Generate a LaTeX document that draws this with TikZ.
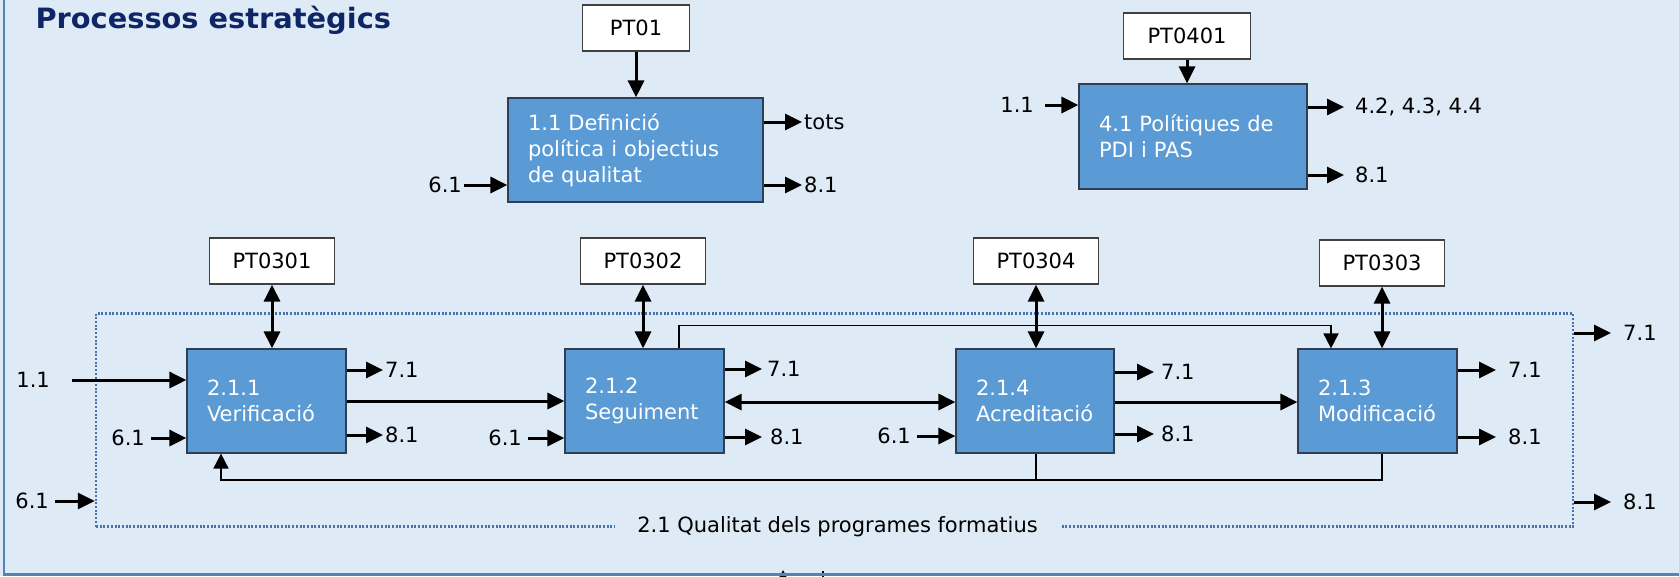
\documentclass[tikz,border=0pt]{standalone}
\usepackage{graphicx}
\usepackage{fontspec}
\setmainfont{DejaVu Sans}
\usetikzlibrary{arrows.meta}
\definecolor{bgblue}{RGB}{222,234,246}
\definecolor{procblue}{RGB}{91,155,213}
\definecolor{procline}{RGB}{47,62,82}
\definecolor{ptline}{RGB}{64,64,64}
\definecolor{titleblue}{RGB}{16,37,102}
\definecolor{framecol}{RGB}{70,116,170}
\definecolor{edgecol}{RGB}{88,130,180}
\begin{document}
\begin{tikzpicture}
    [x=1pt, y=-1pt,
    font=\fontsize{21}{26}\selectfont,
    proc/.style={draw=procline, line width=1.2pt, fill=procblue, text=white,
      align=left, text width=119pt, inner xsep=20pt, minimum height=104pt},
    ptbox/.style={draw=ptline, line width=1.2pt, fill=white,
      minimum width=125pt, minimum height=46pt},
    lbl/.style={inner sep=0pt},
    arr/.style={line width=3pt, -{Triangle[length=17pt,width=16pt]}},
    dblarr/.style={line width=3pt,
      {Triangle[length=17pt,width=16pt]}-{Triangle[length=17pt,width=16pt]}},
    fbline/.style={line width=1.8pt},
    fbarr/.style={line width=1.8pt, -{Triangle[length=15pt,width=15pt]}},
    frame/.style={draw=framecol, line width=2.3pt, dash pattern=on 2pt off 1.7pt}]
    \useasboundingbox (0,0) rectangle (1679,576);
    \fill[bgblue] (0,0) rectangle (1679,576);
    \node[anchor=base west, text=titleblue, font=\fontsize{28}{32}\selectfont\bfseries]
      (title) at (32,28) {\scalebox{1.03}[1]{Processos estratègics}};
    % top row
    \node[ptbox, minimum width=107pt] (pt01) at (636,28) {PT01};
    \node[proc, text width=215pt] (p11) at (635.5,150)
      {1.1 Definició\\política i objectius\\de qualitat};
    \node[ptbox, minimum width=127pt] (pt0401) at (1187,36) {PT0401};
    \node[proc, text width=188pt, minimum height=105pt] (p41) at (1193,136.5)
      {4.1 Polítiques de\\PDI i PAS};
    \draw[arr] (pt01.south) -- (pt01.south |- p11.north);
    \draw[arr] (pt0401.south) -- (pt0401.south |- p41.north);
    \node[lbl, anchor=east] (i11a) at (462,185) {6.1};
    \draw[arr] ([xshift=2pt]i11a.east) -- (p11.west |- i11a);
    \node[lbl, anchor=west] (o11a) at (804,122) {tots};
    \draw[arr] (p11.east |- o11a) -- ([xshift=-2pt]o11a.west);
    \node[lbl, anchor=west] (o11b) at (804,185) {8.1};
    \draw[arr] (p11.east |- o11b) -- ([xshift=-2pt]o11b.west);
    \node[lbl, anchor=east] (i41a) at (1034,105) {1.1};
    \draw[arr] ([xshift=11pt]i41a.east) -- (p41.west |- i41a);
    \node[lbl, anchor=west] (o41a) at (1355,107) {4.2, 4.3, 4.4};
    \draw[arr] (p41.east |- o41a) -- ([xshift=-11pt]o41a.west);
    \node[lbl, anchor=west] (o41b) at (1355,175) {8.1};
    \draw[arr] (p41.east |- o41b) -- ([xshift=-11pt]o41b.west);
    % 2.1 group
    \node[frame, minimum width=1477pt, minimum height=213pt] (grp) at (834.5,420) {};
    \node[fill=bgblue, inner xsep=22pt, inner ysep=4pt] (grplbl) at (837.5,526.5)
      {2.1 Qualitat dels programes formatius};
    \node[ptbox] (pt0301) at (272,261) {PT0301};
    \node[ptbox] (pt0302) at (643,261) {PT0302};
    \node[ptbox] (pt0304) at (1036,261) {PT0304};
    \node[ptbox] (pt0303) at (1382,263) {PT0303};
    \node[proc] (verif) at (266.5,401) {2.1.1\\Verificació};
    \node[proc] (segui) at (644.5,401) {2.1.2\\Seguiment};
    \node[proc, text width=118pt] (acred) at (1035,401) {2.1.4\\Acreditació};
    \node[proc] (modif) at (1377.5,401) {2.1.3\\Modificació};
    \draw[dblarr] (pt0301.south) -- (pt0301.south |- verif.north);
    \draw[dblarr] (pt0302.south) -- (pt0302.south |- segui.north);
    \draw[dblarr] (pt0304.south) -- (pt0304.south |- acred.north);
    \draw[dblarr] (pt0303.south) -- (pt0303.south |- modif.north);
    \draw[arr] (verif.east) -- (segui.west);
    \draw[dblarr] (segui.east |- 0,402) -- (acred.west |- 0,402);
    \draw[arr] (acred.east |- 0,402) -- (modif.west |- 0,402);
    \draw[fbarr] ([xshift=34.5pt]segui.north) -- ++(0,-23) -| ([xshift=-46.5pt]modif.north);
    \draw[fbarr] ([xshift=4.5pt]modif.south) -- ++(0,26) -| ([xshift=-45.5pt]verif.south);
    \draw[fbline] ([xshift=1pt]acred.south) -- ++(0,26);
    % inputs
    \node[lbl, anchor=east] (i21a) at (50,380) {1.1};
    \draw[arr] ([xshift=22pt]i21a.east) -- (verif.west |- i21a);
    \node[lbl, anchor=east] (i21b) at (145,438) {6.1};
    \draw[arr] ([xshift=6pt]i21b.east) -- (verif.west |- i21b);
    \node[lbl, anchor=east] (i21c) at (49,501) {6.1};
    \draw[arr] ([xshift=6pt]i21c.east) -- (grp.west |- i21c);
    \node[lbl, anchor=east] (i22a) at (522,438) {6.1};
    \draw[arr] ([xshift=6pt]i22a.east) -- (segui.west |- i22a);
    \node[lbl, anchor=east] (i24a) at (911,436) {6.1};
    \draw[arr] ([xshift=6pt]i24a.east) -- (acred.west |- i24a);
    % outputs
    \node[lbl, anchor=west] (o21a) at (385,370) {7.1};
    \draw[arr] (verif.east |- o21a) -- ([xshift=-2pt]o21a.west);
    \node[lbl, anchor=west] (o21b) at (385,435) {8.1};
    \draw[arr] (verif.east |- o21b) -- ([xshift=-2pt]o21b.west);
    \node[lbl, anchor=west] (o22a) at (767,369) {7.1};
    \draw[arr] (segui.east |- o22a) -- ([xshift=-5pt]o22a.west);
    \node[lbl, anchor=west] (o22b) at (770,437) {8.1};
    \draw[arr] (segui.east |- o22b) -- ([xshift=-8pt]o22b.west);
    \node[lbl, anchor=west] (o24a) at (1161,372) {7.1};
    \draw[arr] (acred.east |- o24a) -- ([xshift=-7pt]o24a.west);
    \node[lbl, anchor=west] (o24b) at (1161,434) {8.1};
    \draw[arr] (acred.east |- o24b) -- ([xshift=-7pt]o24b.west);
    \node[lbl, anchor=west] (o23a) at (1508,370) {7.1};
    \draw[arr] (modif.east |- o23a) -- ([xshift=-12pt]o23a.west);
    \node[lbl, anchor=west] (o23b) at (1508,437) {8.1};
    \draw[arr] (modif.east |- o23b) -- ([xshift=-12pt]o23b.west);
    \node[lbl, anchor=west] (ogra) at (1623,333) {7.1};
    \draw[arr] (grp.east |- ogra) -- ([xshift=-12pt]ogra.west);
    \node[lbl, anchor=west] (ogrb) at (1623,502) {8.1};
    \draw[arr] (grp.east |- ogrb) -- ([xshift=-12pt]ogrb.west);
    % cut connectors at the bottom edge
    \coordinate (cuta) at (783,600);
    \coordinate (cutb) at (823,600);
    \draw[fbarr] (cuta) -- (783,570);
    \draw[fbline] (cutb) -- (823,571);
    \draw[edgecol, line width=2.5pt] (4,0) -- (4,574.5) -- (1679,574.5);
  \end{tikzpicture}
\end{document}
